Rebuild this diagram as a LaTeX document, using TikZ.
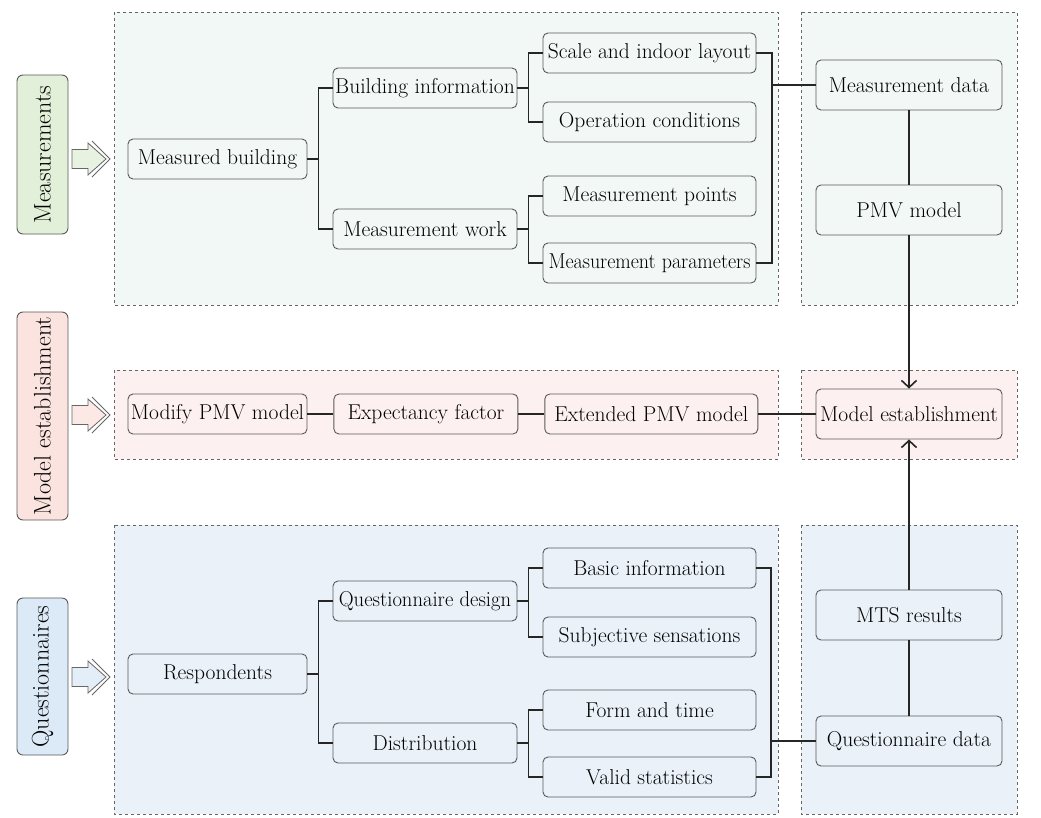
\documentclass[tikz,border=0pt]{standalone}
\usetikzlibrary{positioning, chains, arrows.meta}
\definecolor{greenTag}{HTML}{E2EFD9}
\definecolor{greenBg}{HTML}{F2F8F6}
\definecolor{redTag}{HTML}{FBE4E0}
\definecolor{redBg}{HTML}{FCF1F0}
\definecolor{blueTag}{HTML}{DCEAF7}
\definecolor{blueBg}{HTML}{EAF1F9}

\begin{document}
\begin{tikzpicture}[x=1pt, y=-1pt,
		every node/.style={font=\fontsize{21.5}{24}\selectfont},
		box/.style={draw=black!65, line width=0.9pt, rounded corners=5pt, inner sep=0.5pt, minimum height=40pt},
		colA/.style={box, minimum width=179pt},
		colB/.style={box, minimum width=184pt},
		colC/.style={box, minimum width=213pt},
		colD/.style={box, minimum width=186pt, minimum height=50pt},
		tag/.style={draw=black!65, line width=0.9pt, rounded corners=6pt, rotate=90, inner sep=1pt, minimum height=51pt, font=\fontsize{24}{26}\selectfont},
		group/.style={draw=black!60, dashed, line width=0.6pt},
		link/.style={line width=1.6pt, black!85},
		start chain=mid going right, node distance=26pt]
	\useasboundingbox (0,0) rectangle (1041,817);
	% dashed groups
	\draw[group, fill=greenBg] (114,12) rectangle (778,305);
	\draw[group, fill=greenBg] (801,12) rectangle (1017,305);
	\draw[group, fill=redBg] (114,370) rectangle (778,459);
	\draw[group, fill=redBg] (801,370) rectangle (1017,459);
	\draw[group, fill=blueBg] (114,525) rectangle (778,814);
	\draw[group, fill=blueBg] (801,525) rectangle (1017,814);
	% side tags
	\node[tag, fill=greenTag, minimum width=159pt] (tagMeas) at (42.5,154.5) {Measurements};
	\node[tag, fill=redTag, minimum width=208pt] (tagModel) at (42.5,416) {Model establishment};
	\node[tag, fill=blueTag, minimum width=157pt] (tagQuest) at (42.5,676.5) {Questionnaires};
	\foreach \y/\c in {159/greenTag, 415/redTag, 677/blueTag} {
		\draw[draw=black!60, line width=0.8pt, fill=\c!80!white]
			(72,\y-9.5) -- (88,\y-9.5) -- (88,\y-16) -- (106,\y) -- (88,\y+16) -- (88,\y+9.5) -- (72,\y+9.5) -- cycle;
		\draw[draw=black!60, line width=0.8pt] (92,\y-18) -- (110,\y) -- (92,\y+18);
	}
	% measurements
	\node[colA] (mbuild) at (217.5,159) {Measured building};
	\node[colB] (binfo) at (425,88) {Building information};
	\node[colB] (mwork) at (425,229) {Measurement work};
	\node[colC] (layout) at (649.5,53) {Scale and indoor layout};
	\node[colC] (opcond) at (649.5,122) {Operation conditions};
	\node[colC] (mpoints) at (649.5,196) {Measurement points};
	\node[colC] (mparams) at (649.5,263) {\scalebox{0.93}[1]{Measurement parameters}};
	\node[colD] (mdata) at (909,85) {Measurement data};
	\node[colD] (pmv) at (909,210) {PMV model};
	% model establishment
	\node[colA, on chain=mid] (modpmv) at (217.5,414) {Modify PMV model};
	\node[colB, on chain=mid] (expfac) {Expectancy factor};
	\node[colC, on chain=mid] (extpmv) {Extended PMV model};
	\node[colD] (mestab) at (909,414) {Model establishment};
	% questionnaires
	\node[colA] (resp) at (217.5,674) {Respondents};
	\node[colB] (qdesign) at (425,601) {\scalebox{0.96}[1]{Questionnaire design}};
	\node[colB] (distr) at (425,743) {Distribution};
	\node[colC] (basic) at (649.5,568) {Basic information};
	\node[colC] (subj) at (649.5,637) {Subjective sensations};
	\node[colC] (formt) at (649.5,710) {Form and time};
	\node[colC] (valid) at (649.5,777) {Valid statistics};
	\node[colD] (mts) at (909,615) {MTS results};
	\node[colD] (qdata) at (909,741) {Questionnaire data};
	% tree links
	\foreach \p/\a/\b in {mbuild/binfo/mwork, binfo/layout/opcond, mwork/mpoints/mparams,
		resp/qdesign/distr, qdesign/basic/subj, distr/formt/valid} {
		\draw[link] (\p.east) -- ++(11,0) |- (\a.west);
		\draw[link] (\p.east) -- ++(11,0) |- (\b.west);
	}
	\coordinate (joinMeas) at (772,85);
	\coordinate (joinQuest) at (771,741);
	\draw[link] (layout.east) -| (joinMeas) |- (mparams.east);
	\draw[link] (joinMeas) -- (mdata.west);
	\draw[link] (basic.east) -| (joinQuest) |- (valid.east);
	\draw[link] (joinQuest) -- (qdata.west);
	\draw[link] (modpmv) -- (expfac);
	\draw[link] (expfac) -- (extpmv);
	\draw[link] (extpmv) -- (mestab);
	\draw[link] (mdata) -- (pmv);
	\draw[link, -{Straight Barb[length=7pt, width=15pt]}] (pmv) -- (mestab);
	\draw[link] (qdata) -- (mts);
	\draw[link, -{Straight Barb[length=7pt, width=15pt]}] (mts) -- (mestab);
\end{tikzpicture}
\end{document}
